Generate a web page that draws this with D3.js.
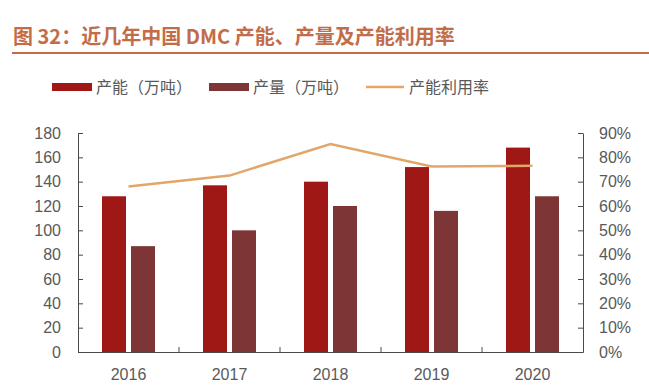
<!DOCTYPE html>
<html><head><meta charset="utf-8">
<script src="https://cdn.jsdelivr.net/npm/d3@7"></script>
<style>body{margin:0;background:#fff;}svg{display:block;font-family:"Liberation Sans",Arial,"Noto Sans CJK SC",sans-serif;}</style>
</head><body><svg id="c" width="649" height="388"></svg>
<script>
const years = ["2016","2017","2018","2019","2020"];
const capacity = [128, 137, 140, 152, 168];
const production = [87, 100, 120, 116, 128];
const utilization = [0.68, 0.725, 0.855, 0.762, 0.765];
const leftTicks = [0,20,40,60,80,100,120,140,160,180];
const rightTicks = [0,0.1,0.2,0.3,0.4,0.5,0.6,0.7,0.8,0.9];
const seriesNames = ["产能（万吨）","产量（万吨）","产能利用率"];
const title = "图 32：近几年中国 DMC 产能、产量及产能利用率";

const colCap = "#A01816", colProd = "#7D3535", colLine = "#E3A66A", textCol = "#595959", titleCol = "#C26D48", axisCol = "#4a4a4a";
const svg = d3.select("#c");
const L = 78, R = 583, T = 133, B = 352;
const x = d3.scaleBand().domain(years).range([L, R]);
const yL = d3.scaleLinear().domain([0,180]).range([B, T]);
const yR = d3.scaleLinear().domain([0,0.9]).range([B, T]);

// title
svg.append("text").attr("x", 13).attr("y", 44).attr("fill", titleCol)
  .attr("font-size", 20).attr("font-weight", "bold")
  .attr("font-family", "'Noto Sans CJK SC',sans-serif").text(title);
svg.append("line").attr("x1", 12).attr("x2", 649).attr("y1", 53).attr("y2", 53)
  .attr("stroke", titleCol).attr("stroke-width", 2);

// legend
const lg = svg.append("g").attr("font-size", 16).attr("fill", textCol)
  .attr("font-family", "'Noto Sans CJK SC',sans-serif");
lg.append("rect").attr("x", 52).attr("y", 83).attr("width", 40).attr("height", 8).attr("fill", colCap);
lg.append("text").attr("x", 96).attr("y", 93).text(seriesNames[0]);
lg.append("rect").attr("x", 209).attr("y", 83).attr("width", 40).attr("height", 8).attr("fill", colProd);
lg.append("text").attr("x", 253).attr("y", 93).text(seriesNames[1]);
lg.append("line").attr("x1", 366).attr("x2", 404).attr("y1", 87).attr("y2", 87).attr("stroke", colLine).attr("stroke-width", 2.5);
lg.append("text").attr("x", 409).attr("y", 93).text(seriesNames[2]);

// bars
const bw = 24, gap = 5;
svg.append("g").selectAll("rect").data(years).join("rect")
  .attr("x", d => x(d) + x.bandwidth()/2 - gap/2 - bw)
  .attr("y", (d,i) => yL(capacity[i])).attr("width", bw)
  .attr("height", (d,i) => B - yL(capacity[i])).attr("fill", colCap);
svg.append("g").selectAll("rect").data(years).join("rect")
  .attr("x", d => x(d) + x.bandwidth()/2 + gap/2)
  .attr("y", (d,i) => yL(production[i])).attr("width", bw)
  .attr("height", (d,i) => B - yL(production[i])).attr("fill", colProd);

// line
svg.append("path").datum(years).attr("fill", "none").attr("stroke", colLine).attr("stroke-width", 2.5)
  .attr("d", d3.line().x(d => x(d) + x.bandwidth()/2).y((d,i) => yR(utilization[i])));

// axes
const fmtAxis = g => {
  g.selectAll("path.domain").attr("stroke", axisCol);
  g.selectAll(".tick line").attr("stroke", axisCol);
  g.selectAll("text").attr("fill", textCol).attr("font-size", 16)
    .attr("font-family", "'Liberation Sans',Arial,sans-serif");
};
svg.append("g").attr("transform", `translate(${L},0)`)
  .call(d3.axisLeft(yL).tickValues(leftTicks).tickSizeInner(-5).tickSizeOuter(0).tickPadding(17))
  .call(fmtAxis);
svg.append("g").attr("transform", `translate(${R},0)`)
  .call(d3.axisRight(yR).tickValues(rightTicks).tickFormat(d3.format(".0%")).tickSizeInner(-5).tickSizeOuter(0).tickPadding(16))
  .call(fmtAxis)
  .selectAll("text").attr("text-anchor","start");
const xg = svg.append("g").attr("transform", `translate(0,${B})`)
  .call(d3.axisBottom(x).tickSize(0).tickSizeOuter(0).tickPadding(17)).call(fmtAxis);
xg.selectAll("text").attr("dy", "0.71em");
// category separators (ticks pointing up)
svg.append("g").selectAll("line").data(years.slice(1)).join("line")
  .attr("x1", d => x(d)).attr("x2", d => x(d)).attr("y1", B).attr("y2", B - 5)
  .attr("stroke", axisCol);
</script></body></html>
